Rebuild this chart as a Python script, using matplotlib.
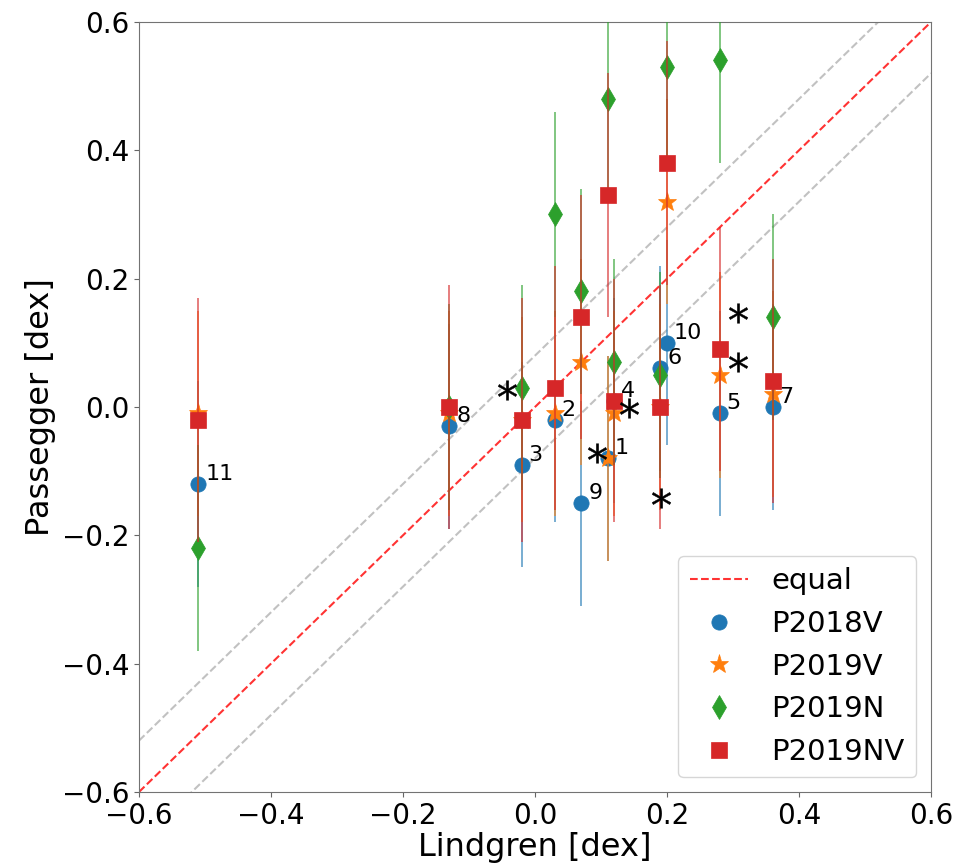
import numpy as np
import matplotlib.pyplot as plt

# Lindgren values for the 11 stars (ids 1..11)
star_ids = ["1", "2", "3", "4", "5", "6", "7", "8", "9", "10", "11"]
lindgren = [0.11, 0.03, -0.02, 0.12, 0.28, 0.19, 0.36, -0.13, 0.07, 0.20, -0.51]

# Passegger values per method
p2018v = [-0.08, -0.02, -0.09, 0.01, -0.01, 0.06, 0.00, -0.03, -0.15, 0.10, -0.12]
p2019v = [-0.08, -0.01, -0.02, -0.01, 0.05, 0.00, 0.02, -0.01, 0.07, 0.32, -0.01]
p2019n = [0.48, 0.30, 0.03, 0.07, 0.54, 0.05, 0.14, 0.00, 0.18, 0.53, -0.22]
p2019nv = [0.33, 0.03, -0.02, 0.01, 0.09, 0.00, 0.04, 0.00, 0.14, 0.38, -0.02]

err_2018v = 0.16
err_2019v = 0.16
err_2019n = 0.16
err_2019nv = 0.19

# extra points marked with an asterisk
ast_x = [-0.043, 0.094, 0.143, 0.191, 0.307, 0.307]
ast_y = [0.026, -0.072, -0.002, -0.142, 0.146, 0.070]

band = 0.08

fig = plt.figure(figsize=(9.69, 8.65), dpi=100)
ax = fig.add_axes([0.1434, 0.0844, 0.8174, 0.8902])

lim = np.array([-0.6, 0.6])
ax.plot(lim, lim, "--", color="red", alpha=0.8, lw=1.5, label="equal", zorder=1)
ax.plot(lim, lim + band, "--", color="0.6", alpha=0.6, lw=1.5, zorder=1)
ax.plot(lim, lim - band, "--", color="0.6", alpha=0.6, lw=1.5, zorder=1)

series = [
    (p2018v, err_2018v, "o", 11, "#1f77b4", "P2018V"),
    (p2019v, err_2019v, "*", 14, "#ff7f0e", "P2019V"),
    (p2019n, err_2019n, "d", 12, "#2ca02c", "P2019N"),
    (p2019nv, err_2019nv, "s", 11, "#d62728", "P2019NV"),
]
z = 2
for vals, err, mk, ms, col, lab in series:
    ax.errorbar(lindgren, vals, yerr=err, fmt="none", ecolor=col, elinewidth=1.2,
                alpha=0.7, zorder=z)
    ax.plot(lindgren, vals, mk, ms=ms, color=col, label=lab, zorder=z + 0.5,
            markeredgewidth=0.5, markeredgecolor=col)
    z += 1

for sid, xv, yv in zip(star_ids, lindgren, p2018v):
    ax.annotate(sid, (xv, yv), xytext=(5, 0), textcoords="offset points",
                fontsize=16, ha="left", va="bottom", zorder=10)

ax.plot(ast_x, ast_y, linestyle="none", marker="$*$", ms=14, color="black",
        markeredgewidth=0.3, zorder=10)

ax.set_xlim(-0.6, 0.6)
ax.set_ylim(-0.6, 0.6)
ax.set_xlabel("Lindgren [dex]", fontsize=23, labelpad=2)
ax.set_ylabel("Passegger [dex]", fontsize=23)
ax.tick_params(labelsize=20, color="0.4")
for sp in ax.spines.values():
    sp.set_color("0.45")

ax.legend(loc="lower right", fontsize=21)

fig.savefig("out.png", dpi=100)
